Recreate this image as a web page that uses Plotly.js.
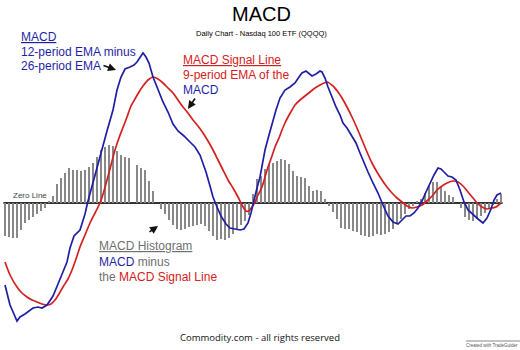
<!DOCTYPE html>
<html><head><meta charset="utf-8">
<script src="https://cdn.plot.ly/plotly-3.0.1.min.js"></script>
<style>html,body{margin:0;padding:0;background:#fff}#chart{width:520px;height:350px}</style>
</head><body><div id="chart"></div>
<script>
// MACD histogram (MACD minus signal), one bar per trading day
const histValues = [
  -33,-34,-35,-35,-27,-20,-17,-14,-11,-8,-5,
  2,7,19,25,30,35,33,33,32,33,36,40,46,53,56,58,57,52,48,46,45,
  0,
  38,35,33,22,12,0,
  -6,-11,-17,-22,-26,-27,-26,-24,-23,-22,-21,-23,
  -28,-33,-37,-36,-37,-35,-31,-26,-22,-18,-12,
  9,24,27,34,39,40,42,44,43,39,32,27,26,25,17,12,13,12,4,-3,
  -9,-16,-25,-26,-26,-28,-29,-32,-33,-34,-33,-31,
  -32,-31,-29,-26,-21,-16,-11,-6,-3,2,4,10,17,21,21,16,12,8,6,0,
  -5,-14,-17,-18,-16,-13,-10,-6,-2,4,9
];
const histDays = histValues.map((v, i) => i);

// MACD line (12-period EMA minus 26-period EMA)
const macdDays = [0,1.25,3,3.75,5,6.25,7,8.25,9.25,10.5,11.25,12,13.25,14.25,15.5,16.25,17.25,18.75,20,20.75,22,23.75,25.5,27,28,29,30,31.25,32.25,33,33.75,34.5,35.25,36,37,38.25,39.5,40.75,42,43.25,44.75,46.25,47.5,48.75,49.5,50.25,51.25,52,53,54,55.25,56.25,57.5,58.75,59.75,60.75,61.5,62.25,63,63.75,65,66,66.75,67.75,68.75,70,71.25,72.5,73.5,74.25,75.25,76,76.75,77.75,78.75,79.25,80,80.75,81.75,82.75,83.75,84.5,85.5,86.75,87.75,88.75,89.75,90.75,92,93.25,94.5,95.75,97,98.25,99.25,100.25,101.25,102.25,103.25,104.25,105.25,106.25,107.25,108.25,109,109.75,110.75,111.75,112.75,113.75,114.75,115.75,117,118.25,119.5,120.5,121.5,122.25,123,124];
const macdValues = [-82,-102,-118,-114,-111,-107,-105,-104,-105,-102,-98,-93,-81,-72,-59,-45,-33,-27,-11,2,21,48,72,93,113,126,134,136,138,141,145,150,146,140,126,114,101,91,79,72,67,61,56,48,40,31,17,6,-4,-13,-21,-25,-26,-27,-26,-20,-10,4,15,26,53,68,80,93,105,113,116,120,126,130,132,129,127,129,132,131,125,116,105,96,88,80,75,66,60,50,40,31,20,10,-2,-13,-19,-21,-17,-13,-13,-10,-5,2,11,20,28,35,34,31,27,26,23,13,1,-7,-12,-16,-20,-15,-6,3,8,10];

// Signal line (9-period EMA of MACD)
const signalDays = [0,1.25,3,4.25,5.5,6.75,8,9.25,10.5,11.5,12.5,13.5,14.5,15.75,16.75,17.75,18.75,20,21.25,22.5,23.75,24.75,25.5,26.5,27.5,28.5,29.25,30.5,31.5,32.5,33.5,34.5,35.75,37,38.25,39.5,40.75,42,43.25,44.5,45.75,47,48.25,49.5,50.75,52,53.25,54.5,55.75,57,58.25,59.25,60.25,61,61.75,62.5,63.25,64.25,65,65.75,66.75,67.5,68.5,69.25,70,70.75,71.75,72.5,73.75,75,76.25,77.5,78.75,80.5,82,83.25,84.25,85.5,86.75,88,89.25,90.5,91.75,93,94.25,95.5,96.75,98,99.25,100.5,101.75,103,104.25,105.75,107,108,109.25,110.5,112,113.25,114.5,115.75,117,118,119.25,120.5,121.75,122.75,124];
const signalValues = [-59,-72,-84,-90,-94,-97,-99,-101,-102,-101,-97,-91,-84,-76,-67,-56,-44,-32,-20,-10,0,12,23,38,53,65,73,86,97,104,111,117,123,126,124,120,115,110,103,96,90,83,77,70,62,53,43,33,23,15,6,-2,-8,-8,-4,1,8,16,26,36,47,56,65,73,80,86,93,98,103,107,111,115,118,121,117,111,105,96,86,75,63,51,40,31,23,16,10,5,1,-3,-5,-4,-2,3,8,13,17,20,22,21,17,11,5,0,-4,-6,-5,-4,0];

const W = 520, H = 350;
const P = (px, py) => ({x: px / W, y: 1 - py / H});
const BLUE = '#1f1fa6', RED = '#d42020', GRAY = '#707070';

function txt(px, py, text, color, size, extra) {
  const p = P(px, py);
  return Object.assign({xref:'paper', yref:'paper', x:p.x, y:p.y, xanchor:'left', yanchor:'middle',
    text:text, showarrow:false, font:{family:'Liberation Sans, Arial, sans-serif', size:size, color:color}}, extra || {});
}
function arrow(hx, hy, tx, ty) {
  const p = P(hx, hy);
  return {xref:'paper', yref:'paper', x:p.x, y:p.y, ax:tx - hx, ay:ty - hy, text:'', showarrow:true,
    arrowhead:2, arrowsize:1, arrowwidth:1.6, arrowcolor:'#111'};
}

const traces = [
  {type:'bar', x:histDays, y:histValues, width:0.5, marker:{color:'#888888', line:{width:0}}, hoverinfo:'skip'},
  {type:'scatter', mode:'lines', x:signalDays, y:signalValues, line:{color:RED, width:1.7, shape:'spline', smoothing:0.6}},
  {type:'scatter', mode:'lines', x:macdDays, y:macdValues, line:{color:BLUE, width:1.7}}
];

const layout = {
  width:W, height:H, margin:{l:0,r:0,t:0,b:0}, showlegend:false,
  paper_bgcolor:'#fff', plot_bgcolor:'#fff',
  xaxis:{range:[-1.25,128.75], visible:false, fixedrange:true},
  yaxis:{range:[-147,203], visible:false, fixedrange:true},
  shapes:[
    {type:'line', xref:'x', yref:'y', x0:-0.4, x1:124.4, y0:0, y1:0, line:{color:'#333', width:2}, layer:'below'},
    {type:'line', xref:'paper', yref:'paper', x0:466/W, x1:1, y0:1-341/H, y1:1-341/H, line:{color:'#888', width:1}}
  ],
  annotations:[
    Object.assign(txt(261, 14, 'MACD', '#000', 20), {xanchor:'center'}),
    Object.assign(txt(261, 33, 'Daily Chart - Nasdaq 100 ETF (QQQQ)', '#000', 7.5), {xanchor:'center'}),
    txt(19, 37, '<u>MACD</u>', BLUE, 12),
    txt(19, 52, '12-period EMA minus', BLUE, 12),
    txt(19, 66, '26-period EMA', BLUE, 12),
    txt(181, 60, '<u>MACD Signal Line</u>', RED, 12),
    txt(181, 75, '9-period EMA of the', RED, 12),
    txt(181, 90, 'MACD', BLUE, 12),
    txt(97, 246, '<u>MACD Histogram</u>', GRAY, 12),
    txt(97, 262, '<span style="color:' + BLUE + '">MACD</span> minus', GRAY, 12),
    txt(97, 277, 'the <span style="color:' + RED + '">MACD Signal Line</span>', GRAY, 12),
    txt(11, 195, 'Zero Line', '#444', 8),
    Object.assign(txt(260, 337, 'Commodity.com - all rights reserved', '#111', 9.5), {xanchor:'center', font:{family:'Open Sans, DejaVu Sans, sans-serif', size:9.5, color:'#111'}}),
    Object.assign(txt(492, 345, 'Created with TradeGuider', '#555', 4.5), {xanchor:'center'}),
    arrow(116, 70, 102, 65),
    arrow(188, 109, 196, 97),
    arrow(158, 226, 148, 233)
  ]
};

Plotly.newPlot('chart', traces, layout, {displayModeBar:false, staticPlot:true});
</script>
</body></html>
